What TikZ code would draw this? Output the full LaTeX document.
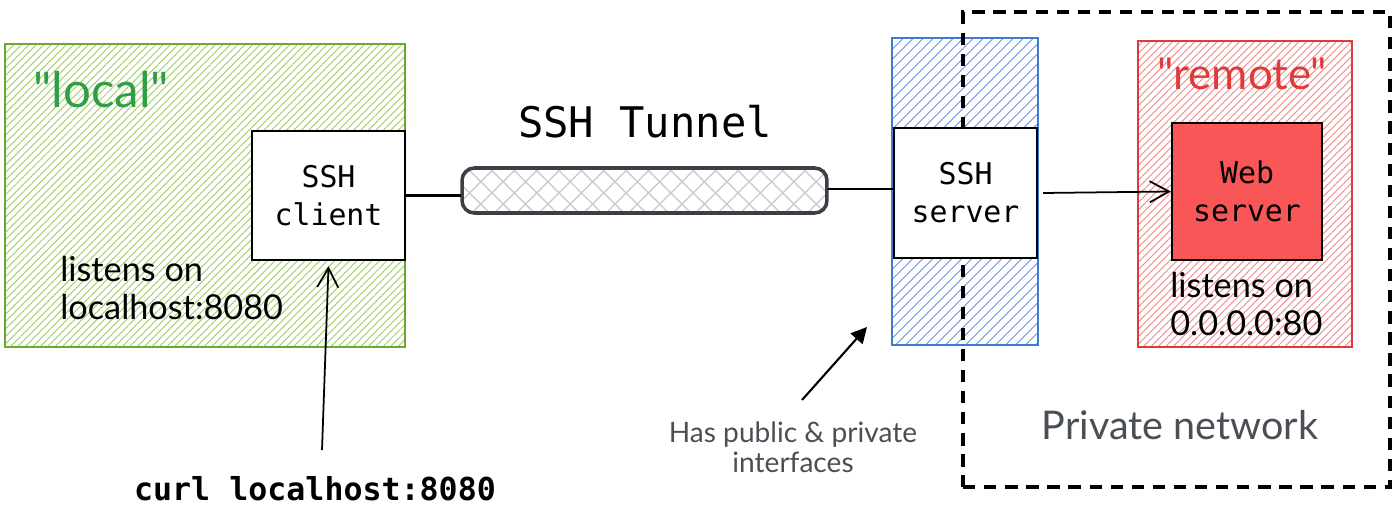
\documentclass[tikz,border=0pt]{standalone}
\usepackage{fontspec}
\setmonofont{DejaVu Sans Mono}
\newfontfamily\handfont{Lato}
\usetikzlibrary{patterns.meta, arrows.meta}

\definecolor{localgreen}{HTML}{6AA82E}
\definecolor{labelgreen}{HTML}{2F9E44}
\definecolor{hatchgreen}{HTML}{9CCB5E}
\definecolor{serverblue}{HTML}{3D7CD0}
\definecolor{hatchblue}{HTML}{5C7FE6}
\definecolor{remotered}{HTML}{E03A3A}
\definecolor{hatchred}{HTML}{EE8585}
\definecolor{webred}{HTML}{F95757}
\definecolor{tunnelgray}{HTML}{3C4046}
\definecolor{meshgray}{HTML}{C8CDD3}
\definecolor{notegray}{HTML}{4A4F56}

\tikzstyle{zone} = [rectangle, line width=1pt, inner sep=0pt]
\tikzstyle{hostbox} = [rectangle, draw=black, line width=1.3pt, fill=white, align=center, font=\ttfamily\fontsize{17}{21.5}\selectfont]
\tikzstyle{handtext} = [align=left, inner sep=0pt, font=\handfont\fontsize{19.5}{21.5}\selectfont]
\tikzstyle{arrow} = [line width=1pt, -{Straight Barb[length=11pt, width=12pt, line width=1pt]}]

\begin{document}
\begin{tikzpicture}[x=0.02cm, y=-0.02cm]
    \useasboundingbox (0,0) rectangle (1398,506);

    % local side
    \node [zone, draw=localgreen, pattern={Lines[angle=45, distance=3pt, line width=0.5pt]}, pattern color=hatchgreen,
           minimum width=8cm, minimum height=6.06cm]                     (localzone)   at (205,195.5) {};
    \node [hostbox, minimum width=3.06cm, minimum height=2.58cm]         (client)      at (328.5,195.5) {SSH\\client};
    \node [anchor=west, text=labelgreen, inner sep=0pt, font=\handfont\fontsize{28}{30}\selectfont]
                                                                         (locallabel)  at (33,90) {"local"};
    \node [handtext, anchor=north west]                                  (locallisten) at (60,256) {listens on\\localhost:8080};
    \node [font=\ttfamily\bfseries\fontsize{18}{20}\selectfont]          (curl)        at (315,489) {curl localhost:8080};
    \coordinate (curltop) at (322,450);

    % tunnel
    \node [font=\ttfamily\fontsize{24}{26}\selectfont]                   (tunneltitle) at (645,122) {SSH Tunnel};
    \node [rectangle, rounded corners=7pt, draw=tunnelgray, line width=2pt,
           pattern={Hatch[angle=45, distance=9pt, line width=0.8pt]}, pattern color=meshgray,
           minimum width=7.3cm, minimum height=0.9cm]                    (tunnel)      at (644.5,190.5) {};

    % ssh server host
    \node [zone, draw=serverblue, pattern={Lines[angle=45, distance=4pt, line width=0.5pt]}, pattern color=hatchblue,
           minimum width=2.92cm, minimum height=6.14cm]                  (serverzone)  at (965,191.5) {};
    \node [rectangle, draw=black, dash pattern=on 7pt off 5pt, line width=1.8pt,
           minimum width=8.54cm, minimum height=9.5cm]                   (private)     at (1176.5,249.5) {};
    \node [hostbox, minimum width=2.86cm, minimum height=2.6cm]          (server)      at (965.5,193) {SSH\\server};

    % remote side
    \node [zone, draw=remotered, pattern={Lines[angle=45, distance=3pt, line width=0.5pt]}, pattern color=hatchred,
           minimum width=4.28cm, minimum height=6.12cm]                  (remotezone)  at (1245,194) {};
    \node [anchor=center, text=remotered, inner sep=0pt, font=\handfont\fontsize{25}{27}\selectfont]
                                                                         (remotelabel) at (1242,74) {"remote"};
    \node [hostbox, fill=webred, minimum width=3cm, minimum height=2.74cm] (web)       at (1247,191.5) {Web\\server};
    \node [handtext, anchor=north west]                                  (weblisten)   at (1170,272) {listens on\\0.0.0.0:80};

    % notes
    \node [text=notegray, font=\handfont\fontsize{22.5}{24}\selectfont]   (privlabel)   at (1180,425) {Private network};
    \node [text=notegray, align=center, font=\handfont\fontsize{16}{17}\selectfont]
                                                                         (ifacenote)   at (793,447) {Has public \& private\\interfaces};
    \coordinate (notestart) at (802,400);
    \coordinate (notetip) at (867,327);

    % connectors
    \draw [line width=1.3pt] (client.east) -- (tunnel.west |- client.east);
    \draw [line width=1pt] (tunnel.east |- 0,189) -- (server.west |- 0,189);
    \draw [arrow] (server.east) ++(5,0) -- (web.west);
    \draw [arrow] (curltop) -- ([yshift=-0.1cm]client.south);
    \draw [line width=1.2pt, -{Triangle[length=9pt, width=9pt]}] (notestart) -- (notetip);
\end{tikzpicture}
\end{document}
